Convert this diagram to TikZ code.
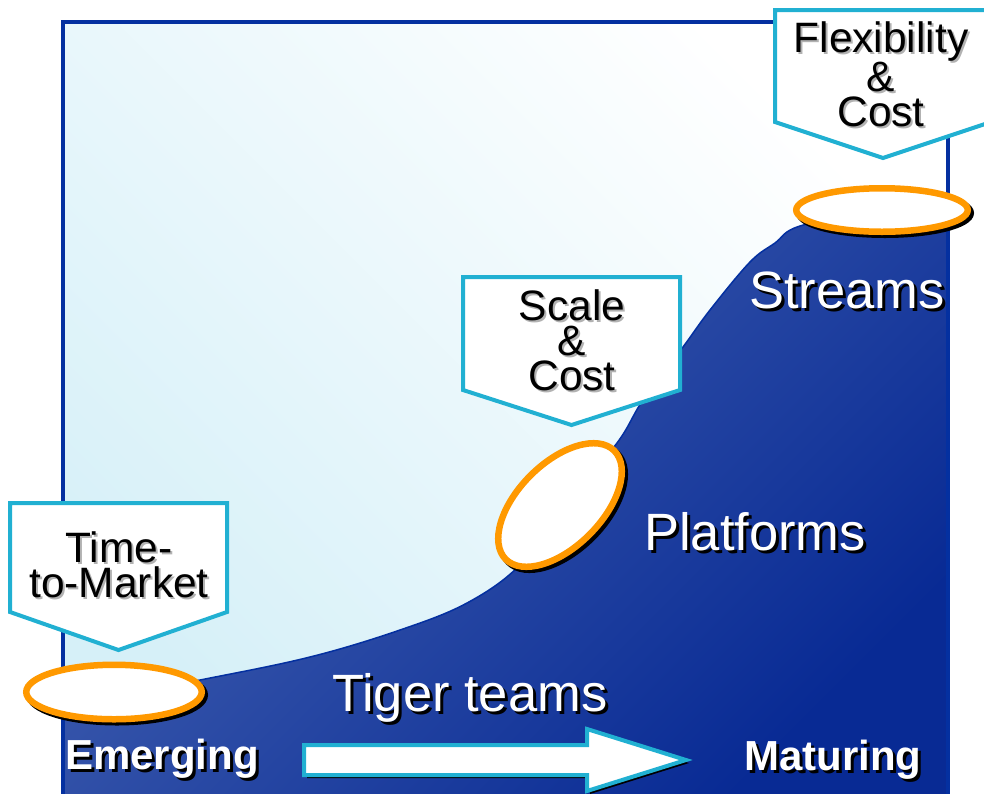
\documentclass[tikz,border=0pt]{standalone}
\usepackage{fontspec}
\setmainfont{Liberation Sans}
\usetikzlibrary{positioning,calc,shapes.geometric}

\definecolor{rimblue}{RGB}{4,48,160}
\definecolor{hillblue}{RGB}{70,100,178}
\definecolor{deepblue}{RGB}{8,42,148}
\definecolor{skyblue}{RGB}{214,240,248}
\definecolor{ringorange}{RGB}{255,153,0}
\definecolor{tagcyan}{RGB}{33,176,210}

\tikzset{
  ring/.style={ellipse,draw=ringorange,line width=6.5pt,fill=white,inner sep=0pt},
  ringshade/.style={ellipse,draw=black,line width=6.5pt,inner sep=0pt},
  tag/.style={draw=tagcyan,line width=4pt,fill=white,line join=miter},
  tagtext/.style={font=\fontsize{42.5}{35}\selectfont,align=center,inner sep=0pt,anchor=north},
  stage/.style={font=\fontsize{52.5}{52}\selectfont,inner sep=0pt,anchor=base west},
  phase/.style={font=\bfseries\fontsize{42}{42}\selectfont,inner sep=0pt,anchor=base west},
  bigarrow/.style={draw=tagcyan,line width=4pt,fill=white,line join=miter}
}

\begin{document}
\begin{tikzpicture}[x=1pt,y=-1pt]
  \useasboundingbox (0,0) rectangle (984,793);
  \clip (0,0) rectangle (984,793);

  % backdrop and the maturity hill
  \shade[bottom color=skyblue,top color=white,shading angle=-45] (63,22) rectangle (948,800);
  \shade[draw=rimblue,line width=1.5pt,top color=hillblue,bottom color=deepblue,shading angle=45]
    plot[smooth,tension=0.6] coordinates {(63,706) (200,680) (310,657) (400,630) (467,603)
      (520,565) (565,505) (617,443) (643,400) (683,347) (710,310) (750,262) (775,243)
      (800,226) (880,210) (948,205)}
    -- (948,800) -- (63,800) -- cycle;
  \draw[rimblue,line width=3.5pt] (63,800) |- (948,22) -- (948,800);

  % callout tags
  \foreach \l/\r/\t/\s/\p in {10/227/503/612/650, 463/680/277/390/425, 775/991/10/122/158}
    \draw[tag] (\l,\t) -- (\r,\t) -- (\r,\s) -- ({(\l+\r)/2},\p) -- (\l,\s) -- cycle;
  \foreach \ink/\off in {black!30/2,black/0} {
    \node[tagtext,text=\ink] (ttm) at (119+\off,531+\off) {Time-\\to-Market};
    \node[tagtext,text=\ink] (scale) at (572+\off,289+\off) {Scale\\\&\\Cost};
    \node[tagtext,text=\ink] (flex) at (881+\off,21+\off) {Flexibility\\\&\\Cost};
  }

  % rings on the curve
  \foreach \name/\cx/\cy/\w/\h/\ang in {emerge/114/692/175.5/54.5/0, platform/560/505/153.5/83.5/45,
      stream/882/210/171.5/43.5/0} {
    \node[ringshade,minimum width=\w pt,minimum height=\h pt,rotate=\ang] at (\cx+3,\cy+3) {};
    \node[ring,minimum width=\w pt,minimum height=\h pt,rotate=\ang] (\name) at (\cx,\cy) {};
  }

  % progress arrow
  \fill[black] (307,748) -- (590,748) -- (590,732) -- (689,763) -- (590,794) -- (590,778)
    -- (307,778) -- cycle;
  \draw[bigarrow] (304,745) -- (587,745) -- (587,729) -- (686,760) -- (587,791) -- (587,775)
    -- (304,775) -- cycle;

  % labels
  \foreach \ink/\off in {black/3,white/0} {
    \node[stage,text=\ink] (streams) at (749+\off,308+\off) {Streams};
    \node[stage,text=\ink] (platforms) at (644+\off,550+\off) {Platforms};
    \node[stage,text=\ink] (tiger) at (332+\off,711+\off) {Tiger teams};
    \node[phase,text=\ink] (emerging) at (65+\off,769+\off) {Emerging};
    \node[phase,text=\ink] (maturing) at (744+\off,770+\off) {Maturing};
  }
\end{tikzpicture}
\end{document}
